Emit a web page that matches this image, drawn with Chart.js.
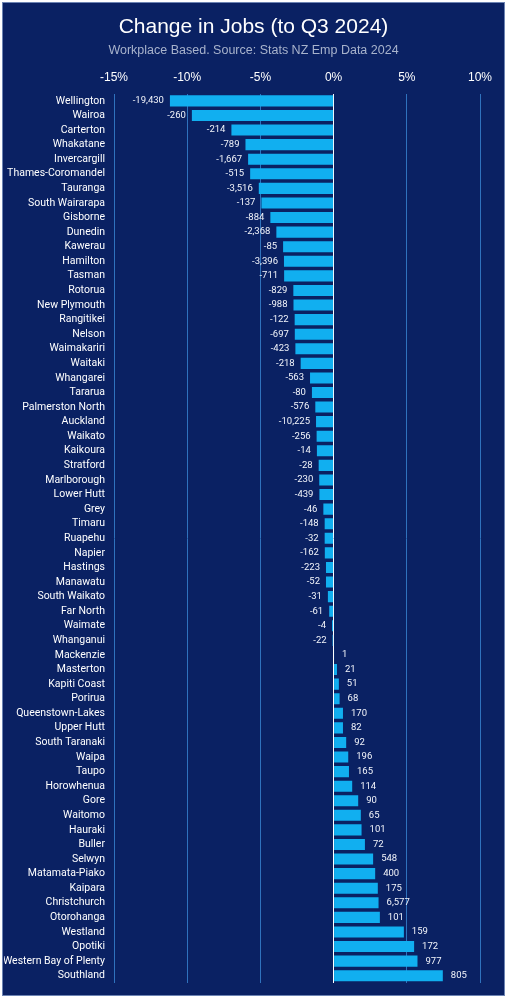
<!DOCTYPE html>
<html>
<head>
<meta charset="utf-8">
<script src="https://cdn.jsdelivr.net/npm/chart.js@4"></script>
<style>
  body { margin: 0; background: #ffffff; }
  #frame { position: absolute; left: 2px; top: 2px; width: 501px; height: 992px; background: #0a2163; border: 1px solid #6d84b3; }
  #wrap { position: absolute; left: 0; top: 0; width: 507px; height: 1000px; }
</style>
</head>
<body>
<div id="frame"></div>
<div id="wrap"><canvas id="grafico"></canvas></div>
<script>
// distritos, variação % e variação absoluta de empregos
let distritos = ["Wellington", "Wairoa", "Carterton", "Whakatane", "Invercargill", "Thames-Coromandel", "Tauranga",
  "South Wairarapa", "Gisborne", "Dunedin", "Kawerau", "Hamilton", "Tasman", "Rotorua", "New Plymouth",
  "Rangitikei", "Nelson", "Waimakariri", "Waitaki", "Whangarei", "Tararua", "Palmerston North", "Auckland",
  "Waikato", "Kaikoura", "Stratford", "Marlborough", "Lower Hutt", "Grey", "Timaru", "Ruapehu", "Napier",
  "Hastings", "Manawatu", "South Waikato", "Far North", "Waimate", "Whanganui", "Mackenzie", "Masterton",
  "Kapiti Coast", "Porirua", "Queenstown-Lakes", "Upper Hutt", "South Taranaki", "Waipa", "Taupo",
  "Horowhenua", "Gore", "Waitomo", "Hauraki", "Buller", "Selwyn", "Matamata-Piako", "Kaipara",
  "Christchurch", "Otorohanga", "Westland", "Opotiki", "Western Bay of Plenty", "Southland"];

let variacaoPct = [-11.18, -9.68, -6.98, -6.02, -5.84, -5.70, -5.11,
  -4.93, -4.32, -3.91, -3.45, -3.39, -3.38, -2.75, -2.74,
  -2.66, -2.65, -2.61, -2.25, -1.61, -1.48, -1.25, -1.20,
  -1.16, -1.14, -1.02, -0.98, -0.97, -0.70, -0.61, -0.61, -0.60,
  -0.52, -0.52, -0.39, -0.30, -0.11, -0.07, 0.03, 0.23,
  0.36, 0.41, 0.64, 0.64, 0.86, 1.00, 1.05,
  1.27, 1.68, 1.86, 1.91, 2.14, 2.70, 2.84, 3.02,
  3.07, 3.16, 4.80, 5.50, 5.73, 7.46];

let variacaoEmpregos = [-19430, -260, -214, -789, -1667, -515, -3516,
  -137, -884, -2368, -85, -3396, -711, -829, -988,
  -122, -697, -423, -218, -563, -80, -576, -10225,
  -256, -14, -28, -230, -439, -46, -148, -32, -162,
  -223, -52, -31, -61, -4, -22, 1, 21,
  51, 68, 170, 82, 92, 196, 165,
  114, 90, 65, 101, 72, 548, 400, 175,
  6577, 101, 159, 172, 977, 805];

let ticksX = [-15, -10, -5, 0, 5, 10];

// rótulos com o número absoluto na ponta de cada barra
const rotulos = {
  id: 'rotulos',
  afterDatasetsDraw(chart) {
    const ctx = chart.ctx;
    const meta = chart.getDatasetMeta(0);
    ctx.save();
    ctx.font = '9.5px Roboto, "Liberation Sans", sans-serif';
    ctx.fillStyle = '#f2f4fa';
    ctx.textBaseline = 'middle';
    meta.data.forEach((bar, i) => {
      let txt = variacaoEmpregos[i].toLocaleString('en-US');
      if (variacaoPct[i] < 0) {
        ctx.textAlign = 'right';
        ctx.fillText(txt, bar.x - 6, bar.y);
      } else {
        ctx.textAlign = 'left';
        ctx.fillText(txt, bar.x + 8, bar.y);
      }
    });
    ctx.restore();
  }
};

new Chart(document.getElementById('grafico'), {
  type: 'bar',
  data: {
    labels: distritos,
    datasets: [{
      data: variacaoPct,
      backgroundColor: '#11aff0',
      barPercentage: 0.76,
      categoryPercentage: 1
    }]
  },
  options: {
    indexAxis: 'y',
    responsive: true,
    maintainAspectRatio: false,
    animation: false,
    layout: { padding: { left: 4, right: 4, top: 0, bottom: 17 } },
    plugins: {
      legend: { display: false },
      tooltip: { enabled: false },
      title: {
        display: true,
        text: 'Change in Jobs (to Q3 2024)',
        color: '#ffffff',
        font: { family: '"Liberation Sans", Arial, sans-serif', size: 21, weight: 'normal' },
        padding: { top: 15, bottom: 3 }
      },
      subtitle: {
        display: true,
        text: 'Workplace Based. Source: Stats NZ Emp Data 2024',
        color: '#a8b3cc',
        font: { family: '"Liberation Sans", Arial, sans-serif', size: 12.5 },
        padding: { top: 0, bottom: 3 }
      }
    },
    scales: {
      x: {
        position: 'top',
        min: -15,
        max: 10,
        afterBuildTicks: (s) => { s.ticks = ticksX.map(v => ({ value: v })); },
        ticks: {
          color: '#ffffff',
          padding: 9,
          font: { family: '"Liberation Sans", Arial, sans-serif', size: 12 },
          callback: (v) => v + '%'
        },
        grid: {
          drawTicks: false,
          color: (c) => (c.tick && c.tick.value === 0) ? '#ffffff' : '#2f72bd',
          lineWidth: 1
        },
        border: { display: false }
      },
      y: {
        afterFit: (s) => { s.width = 110; },
        ticks: {
          color: '#ffffff',
          padding: 9,
          autoSkip: false,
          font: { family: 'Roboto, "Liberation Sans", sans-serif', size: 10.5 }
        },
        grid: { display: false, drawTicks: false },
        border: { display: false }
      },
      // eixo vazio só para reservar a margem da direita
      margem: {
        axis: 'y',
        type: 'category',
        position: 'right',
        afterFit: (s) => { s.width = 23; },
        ticks: { display: false },
        grid: { display: false, drawTicks: false },
        border: { display: false }
      }
    }
  },
  plugins: [rotulos]
});
</script>
</body>
</html>
